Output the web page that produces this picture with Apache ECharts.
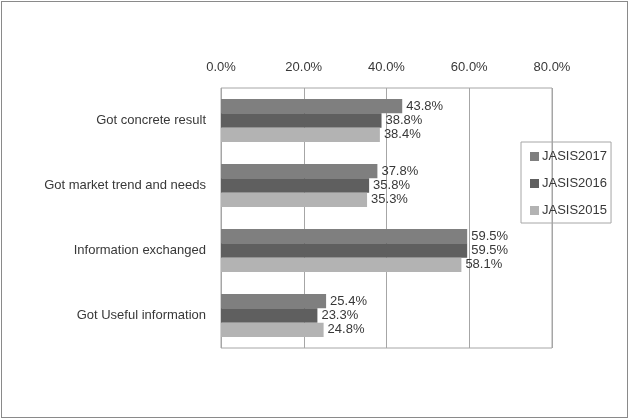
<!DOCTYPE html>
<html>
<head>
<meta charset="utf-8">
<script src="https://cdn.jsdelivr.net/npm/echarts@6/dist/echarts.min.js"></script>
<style>
  html, body { margin: 0; padding: 0; background: #fff; }
  #chart { width: 629px; height: 419px; position: relative; }
  #frame { position: absolute; left: 1px; top: 1px; right: 1px; bottom: 1px;
           border: 1px solid #8a8a8a; pointer-events: none; }
</style>
</head>
<body>
<div style="position:relative;width:629px;height:419px;">
  <div id="chart"></div>
  <div id="frame"></div>
</div>
<script>
// Survey responses by category, share of respondents
const categories = ['Got concrete result', 'Got market trend and needs', 'Information exchanged', 'Got Useful information'];
const jasis2017 = [0.438, 0.378, 0.595, 0.254];
const jasis2016 = [0.388, 0.358, 0.595, 0.233];
const jasis2015 = [0.384, 0.353, 0.581, 0.248];
const seriesNames = ['JASIS2017', 'JASIS2016', 'JASIS2015'];
const seriesColors = ['#7f7f7f', '#5f5f5f', '#b3b3b3'];

const FONT = 'Liberation Sans';
const TEXT = '#383838';
const pct = v => (v * 100).toFixed(1) + '%';

const chart = echarts.init(document.getElementById('chart'), null, { renderer: 'canvas' });

const makeSeries = (name, data, color) => ({
  name: name,
  type: 'bar',
  data: data,
  barCategoryGap: '34%',
  barGap: '0%',
  itemStyle: { color: color },
  label: {
    show: true,
    position: 'right',
    distance: 4,
    formatter: p => pct(p.value),
    fontFamily: FONT,
    fontSize: 13,
    color: TEXT
  }
});

chart.setOption({
  animation: false,
  backgroundColor: '#fff',
  grid: { left: 221, top: 88, right: 77, bottom: 71, show: true, borderColor: '#a6a6a6', borderWidth: 1 },
  legend: {
    orient: 'vertical',
    left: 521,
    top: 142,
    padding: [8, 4, 6, 9],
    itemGap: 14,
    itemWidth: 9,
    itemHeight: 9,
    icon: 'rect',
    borderColor: '#a6a6a6',
    borderWidth: 1,
    textStyle: { fontFamily: FONT, fontSize: 13, color: TEXT, padding: [0, 0, 0, -2] },
    data: seriesNames
  },
  xAxis: {
    type: 'value',
    position: 'top',
    min: 0,
    max: 0.8,
    interval: 0.2,
    axisLine: { show: false },
    axisTick: { show: false },
    splitLine: { show: true, lineStyle: { color: '#a6a6a6', width: 1 } },
    axisLabel: { formatter: pct, fontFamily: FONT, fontSize: 13, color: TEXT, margin: 14 }
  },
  yAxis: {
    type: 'category',
    inverse: true,
    data: categories,
    axisLine: { show: false },
    axisTick: { show: false },
    axisLabel: { fontFamily: FONT, fontSize: 13, color: TEXT, margin: 15 }
  },
  series: [
    makeSeries(seriesNames[0], jasis2017, seriesColors[0]),
    makeSeries(seriesNames[1], jasis2016, seriesColors[1]),
    makeSeries(seriesNames[2], jasis2015, seriesColors[2])
  ]
});
</script>
</body>
</html>
